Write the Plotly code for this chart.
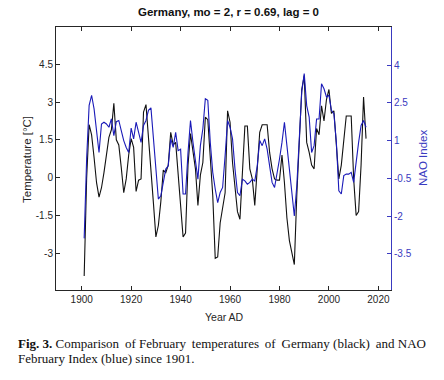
import plotly.graph_objects as go

years = list(range(1901, 2016))
temp_germany = [
    -3.9, 0.0, 2.1, 1.7, 0.8, -0.2, -0.77, -0.4, 0.2, 1.0,
    1.6, 1.9, 2.95, 1.5, 1.3, 0.4, -0.6, -0.05, 0.9, 1.55,
    1.2, -0.55, -0.1, -0.05, 2.6, 2.9, 1.7, 0.3, -1.0, -2.35,
    -1.9, -0.95, 0.3, 0.2, 0.5, 1.8, 1.3, 1.4, 0.1, -1.2,
    -2.35, -2.2, 0.5, 1.75, 1.0, 0.35, -1.1, 0.1, 0.6, 2.4,
    2.3, 0.75, -0.7, -3.2, -3.15, -1.8, -1.2, -0.6, 2.65, 2.2,
    0.6, -0.45, -1.35, -1.65, 0.2, 2.05, 2.05, 0.35, -0.05, -1.1,
    0.35, 1.8, 2.1, 2.1, 2.1, 1.0, 0.35, -0.05, -0.1, -0.1,
    0.9, -0.2, -1.6, -2.5, -2.95, -3.45, -0.7, 1.55, 3.5, 4.05,
    1.4, 1.0, 0.5, 0.35, 1.95, 1.7, 2.85, 2.25, 3.1, 3.5,
    2.55, 2.65, 1.3, -0.05, 0.5, 1.55, 2.45, 2.45, 2.45, -0.05,
    -1.5, -1.35, 0.5, 3.2, 1.55,
]
nao_index = [
    -2.88, 0.3, 2.4, 2.8, 2.26, 1.33, 0.53, 1.66, 1.73, 1.66,
    1.53, 1.86, 1.2, 1.75, 1.8, 1.4, 1.0, 0.73, 0.53, 1.5,
    1.07, 1.73, 1.33, 0.93, 1.6, 1.8, 2.2, 2.3, 1.1, -0.1,
    -1.32, -1.19, -0.66, -0.13, 0.0, 1.07, 0.73, 1.33, 0.6, 0.66,
    -1.12, -1.12, 0.53, 1.8, 0.93, 0.13, -0.53, 0.8, 1.47, 2.66,
    2.6, 0.93, -0.26, -0.92, -1.46, -1.06, -0.86, 0.4, 1.8, 1.53,
    1.07, -0.13, -1.06, -1.19, -0.53, -0.6, -0.73, -0.66, -0.53, -0.6,
    0.0, 1.0, 0.8, 1.07, 0.66, 0.0, -0.66, -0.86, -0.33, 0.27,
    0.93, 1.73, 0.8, -0.2, -1.1, -1.99, -0.79, 1.07, 2.93, 3.66,
    2.39, 1.93, 0.53, 0.8, 1.86, 1.86, 3.26, 3.06, 2.73, 2.8,
    2.2, 2.07, 0.93, -0.99, -1.12, -0.39, -0.33, -0.33, -0.26, -0.66,
    0.27, 0.93, 1.6, 1.8, 1.53,
]
x_ticks = [1900, 1920, 1940, 1960, 1980, 2000, 2020]
temp_ticks = [-3, -1.5, 0, 1.5, 3, 4.5]
nao_ticks = [-3.5, -2, -0.5, 1, 2.5, 4]

BLUE = "#1a1ab8"
AXBLUE = "#3a3ac0"
FONT = "Liberation Sans, Arial, sans-serif"
SERIF = "Liberation Serif, Times New Roman, serif"

fig = go.Figure()
fig.add_trace(go.Scatter(x=years, y=temp_germany, mode="lines",
                         line=dict(color="#111111", width=1.1), yaxis="y"))
fig.add_trace(go.Scatter(x=years, y=nao_index, mode="lines",
                         line=dict(color=BLUE, width=1.1), yaxis="y2"))

W, H = 444, 380
L, R, T, B = 56, 391, 27, 290
fig.update_layout(
    width=W, height=H,
    margin=dict(l=L, r=W - R, t=T, b=H - B, pad=0, autoexpand=False),
    paper_bgcolor="white", plot_bgcolor="white",
    showlegend=False,
    font=dict(family=FONT, size=10, color="#262626"),
    xaxis=dict(range=[1889.6, 2025.1], tickvals=x_ticks, automargin=False,
               ticks="inside", ticklen=4, tickcolor="#262626",
               showline=True, linecolor="#262626", linewidth=1,
               mirror="ticks", showgrid=False, zeroline=False,
               tickfont=dict(size=10, color="#262626")),
    yaxis=dict(range=[-4.46, 5.98], tickvals=temp_ticks, automargin=False,
               ticktext=[str(v) for v in temp_ticks],
               ticks="inside", ticklen=4, tickcolor="#262626",
               showline=True, linecolor="#262626", linewidth=1,
               showgrid=False, zeroline=False,
               tickfont=dict(size=10, color="#262626")),
    yaxis2=dict(range=[-4.93, 5.51], tickvals=nao_ticks, automargin=False,
                ticktext=[str(v) for v in nao_ticks],
                overlaying="y", side="right",
                ticks="inside", ticklen=4, tickcolor=AXBLUE,
                showline=True, linecolor=AXBLUE, linewidth=1,
                showgrid=False, zeroline=False,
                tickfont=dict(size=10, color=AXBLUE)),
)

def px_x(p):
    return (p - L) / (R - L)

def px_y(p):
    return (B - p) / (B - T)

ts = "\u2009"
line1 = ("<b>Fig. 3.</b> Comparison" + ts + " of February" + ts + " temperatures" + ts +
         " of" + ts + " Germany" + " (black)" + ts + " and" + " NAO")
ann = [
    dict(text="<b>Germany, mo = 2, r = 0.69, lag = 0</b>", x=px_x(228), y=px_y(12),
         font=dict(size=11.5, color="#111111", family=FONT)),
    dict(text="Temperature [°C]", x=px_x(27), y=px_y(159), textangle=-90,
         font=dict(size=11.5, color="#262626", family=FONT)),
    dict(text="NAO Index", x=px_x(423), y=px_y(158), textangle=-90,
         font=dict(size=11.5, color=AXBLUE, family=FONT)),
    dict(text="Year AD", x=px_x(224), y=px_y(317),
         font=dict(size=10.5, color="#262626", family=FONT)),
    dict(text=line1,
         x=px_x(16), y=px_y(343), xanchor="left",
         font=dict(size=13, color="#111111", family=SERIF)),
    dict(text="February Index (blue) since 1901.",
         x=px_x(16), y=px_y(358), xanchor="left",
         font=dict(size=13, color="#111111", family=SERIF)),
]
for a in ann:
    a.setdefault("xanchor", "center")
    a.update(xref="paper", yref="paper", yanchor="middle", showarrow=False)
fig.update_layout(annotations=ann)

fig.write_html("out.html", config={"displayModeBar": False},
               post_script="document.body.style.margin='0';document.body.style.overflow='hidden';")
